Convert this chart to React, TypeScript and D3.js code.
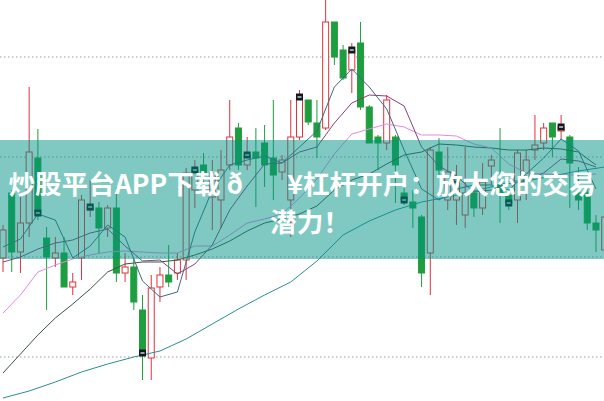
import * as d3 from 'd3';

const WIDTH = 604;
const HEIGHT = 401;

// candle values, one per bar
const opens = [
  10.99, 11.64, 11.05, 11.34, 11.99, 11.19, 10.99, 11.04, 10.70, 10.99,
  11.47, 11.49, 11.29, 11.49, 10.84, 10.90, 10.47, 9.99, 10.70, 10.82,
  10.84, 10.97, 11.67, 11.92, 11.60, 11.57, 11.92, 12.29, 11.92, 12.05,
  12.14, 11.99, 11.85, 11.57, 12.20, 12.57, 12.34, 12.29, 13.35, 13.07,
  12.87, 13.14, 12.50, 12.20, 12.14, 12.20, 11.64, 11.55, 11.40, 11.04,
  12.05, 11.57, 11.57, 11.42, 11.64, 11.49, 11.91, 11.72, 11.62, 11.57,
  11.77, 12.07, 12.14, 12.34, 12.26, 12.20, 11.64, 11.64, 11.34, 11.07,
];
const closes = [
  11.27, 11.05, 11.34, 12.05, 11.44, 11.00, 11.04, 10.70, 10.75, 11.57,
  11.50, 11.29, 11.49, 10.84, 10.90, 10.55, 10.04, 10.69, 10.82, 10.75,
  10.97, 11.84, 11.87, 11.84, 11.84, 11.87, 12.20, 11.92, 12.02, 11.99,
  11.92, 11.82, 11.97, 12.20, 12.60, 12.35, 12.20, 13.35, 13.00, 12.79,
  13.07, 12.50, 12.14, 12.14, 12.57, 11.92, 11.57, 11.49, 10.84, 12.07,
  11.87, 11.85, 11.77, 11.64, 11.49, 11.75, 11.97, 11.62, 11.54, 12.04,
  11.97, 12.12, 12.29, 12.20, 12.30, 11.94, 11.57, 11.34, 11.27, 11.40,
];
const highs = [
  11.32, 11.67, 11.62, 12.70, 12.28, 11.30, 11.20, 11.20, 10.84, 11.62,
  11.77, 11.55, 11.52, 11.70, 11.04, 10.99, 10.62, 10.82, 10.90, 11.12,
  11.04, 11.89, 11.97, 12.04, 11.97, 12.07, 12.57, 12.34, 12.20, 12.29,
  12.32, 12.57, 12.02, 12.57, 12.67, 12.57, 12.57, 13.62, 13.35, 13.12,
  13.14, 13.35, 12.52, 12.22, 12.62, 12.22, 11.77, 11.67, 11.42, 12.10,
  12.19, 12.10, 11.92, 12.10, 11.72, 11.94, 12.02, 12.29, 11.67, 12.07,
  12.07, 12.42, 12.34, 12.34, 12.42, 12.22, 11.90, 11.70, 11.42, 11.47,
];
const lows = [
  10.85, 10.85, 10.84, 11.20, 11.37, 10.47, 10.90, 10.70, 10.62, 10.77,
  11.40, 11.04, 11.20, 10.75, 10.75, 10.47, 9.77, 9.77, 10.55, 10.70,
  10.77, 10.77, 11.49, 11.67, 11.27, 11.29, 11.87, 11.87, 11.87, 11.50,
  11.70, 11.57, 11.77, 11.20, 12.17, 12.32, 11.99, 12.27, 12.92, 12.77,
  12.64, 12.47, 12.14, 11.87, 12.07, 11.54, 11.52, 11.29, 10.70, 10.62,
  11.80, 11.47, 11.32, 11.29, 11.40, 11.42, 11.72, 11.34, 11.47, 11.34,
  11.57, 11.97, 12.07, 12.00, 12.17, 11.49, 11.47, 11.27, 11.05, 10.97,
];

// bars that carry a small dark marker at the close
const markerIdx = [4, 10, 16, 22, 28, 34, 40, 46, 52, 58, 64];

// moving averages read at every second bar
const maEvenIdx = d3.range(0, 70, 2);
const ma5 = [
  11.10, 11.18, 11.43, 11.37, 10.99, 11.11, 11.32, 11.20, 10.76, 10.60,
  10.65, 11.25, 11.67, 11.92, 11.97, 12.01, 11.94, 12.10, 12.26, 12.70,
  12.88, 12.70, 12.48, 12.07, 11.68, 11.57, 11.68, 11.72, 11.72, 11.67,
  11.83, 11.99, 12.18, 12.06, 11.68,
];
const ma10 = [
  10.95, 11.00, 11.08, 11.14, 11.17, 11.24, 11.28, 11.11, 10.96, 10.97,
  10.83, 10.93, 11.12, 11.47, 11.71, 11.93, 11.94, 12.05, 12.10, 12.34,
  12.54, 12.62, 12.61, 12.51, 12.10, 11.91, 11.81, 11.65, 11.67, 11.76,
  11.76, 11.84, 11.98, 11.96, 11.90,
];
const ma20 = [
  10.44, 10.62, 10.85, 10.92, 10.98, 11.02, 11.05, 11.06, 11.05, 11.04,
  11.04, 11.11, 11.11, 11.22, 11.34, 11.38, 11.43, 11.59, 11.78, 12.03,
  12.23, 12.28, 12.33, 12.30, 12.22, 12.22, 12.21, 12.13, 12.09, 11.93,
  11.84, 11.83, 11.82, 11.82, 11.83,
];
const ma30 = [
  9.84, 10.03, 10.22, 10.39, 10.53, 10.68, 10.85, 10.93, 10.95, 10.95,
  10.97, 11.02, 11.08, 11.16, 11.26, 11.34, 11.38, 11.43, 11.51, 11.67,
  11.77, 11.83, 11.93, 12.02, 12.05, 12.13, 12.12, 12.10, 12.09, 12.07,
  12.07, 12.09, 12.08, 12.05, 11.92,
];
// long average read at every third bar
const ma60Idx = d3.range(0, 70, 3);
const ma60 = [
  9.59, 9.66, 9.75, 9.85, 9.93, 10.00, 10.06, 10.18, 10.33, 10.48,
  10.62, 10.75, 10.96, 11.22, 11.36, 11.47, 11.55, 11.60, 11.66, 11.72,
  11.76, 11.81, 11.86, 11.90,
];

const gridTicks = [10, 11, 12, 13];

const titleLines = [
  '炒股平台APP下载 ð\u009f\u0092¥杠杆开户：放大您的交易',
  '潜力！',
];

const UP = '#e0313c';
const DOWN = '#1e9e3e';

export default function App() {
  const xScale = d3.scaleLinear().domain([0, 69]).range([3, 604.7]);
  const yScale = d3.scaleLinear().domain([10, 13]).range([357, 57]);
  const bodyW = 6;

  const line = (idx: number[]) =>
    d3
      .line<number>()
      .x((_, i) => xScale(idx[i]))
      .y((d) => yScale(d));

  const maLines = [
    { values: ma60, idx: ma60Idx, color: '#2a8e95' },
    { values: ma30, idx: maEvenIdx, color: '#3a5440' },
    { values: ma20, idx: maEvenIdx, color: '#e38ae3' },
    { values: ma10, idx: maEvenIdx, color: '#86407a' },
    { values: ma5, idx: maEvenIdx, color: '#3c6a80' },
  ];

  const candles = closes.map((c, i) => {
    const o = opens[i];
    const up = c >= o;
    const color = up ? UP : DOWN;
    const x = xScale(i);
    const top = yScale(Math.max(o, c));
    const bot = yScale(Math.min(o, c));
    return (
      <g key={i}>
        <line x1={x} x2={x} y1={yScale(highs[i])} y2={yScale(lows[i])} stroke={color} strokeWidth={1} />
        <rect
          x={x - bodyW / 2}
          y={top}
          width={bodyW}
          height={Math.max(1, bot - top)}
          fill={up ? '#ffffff' : color}
          stroke={color}
          strokeWidth={1}
        />
      </g>
    );
  });

  const markers = markerIdx.map((i) => {
    const x = xScale(i);
    const y = yScale(closes[i]);
    return (
      <g key={i}>
        <rect x={x - 3.5} y={y - 3.5} width={7} height={7} fill="#101820" />
        <line x1={x - 2} x2={x + 2} y1={y} y2={y} stroke="#ffffff" strokeWidth={1.2} />
      </g>
    );
  });

  return (
    <svg
      width={WIDTH}
      height={HEIGHT}
      style={{ position: 'absolute', left: 0, top: 0, background: '#fff' }}
    >
      {gridTicks.map((t) => (
        <line
          key={t}
          x1={0}
          x2={WIDTH}
          y1={yScale(t)}
          y2={yScale(t)}
          stroke="#9a9a9a"
          strokeDasharray="1.5,2.5"
        />
      ))}
      {candles}
      {maLines.map((m, k) => (
        <path key={k} d={line(m.idx)(m.values) ?? ''} fill="none" stroke={m.color} strokeWidth={1} />
      ))}
      {markers}
      <rect x={0} y={140} width={WIDTH} height={119} fill="rgb(0,148,134)" opacity={0.5} />
      {titleLines.map((t, i) => (
        <text
          key={i}
          x={i === 0 ? 302 : 310}
          y={182 + i * 38}
          textAnchor="middle"
          dominantBaseline="central"
          fill="#ffffff"
          fontFamily="'Noto Sans CJK SC', 'Noto Sans', sans-serif"
          fontWeight={700}
          fontSize={26.6}
        >
          {t}
        </text>
      ))}
    </svg>
  );
}
